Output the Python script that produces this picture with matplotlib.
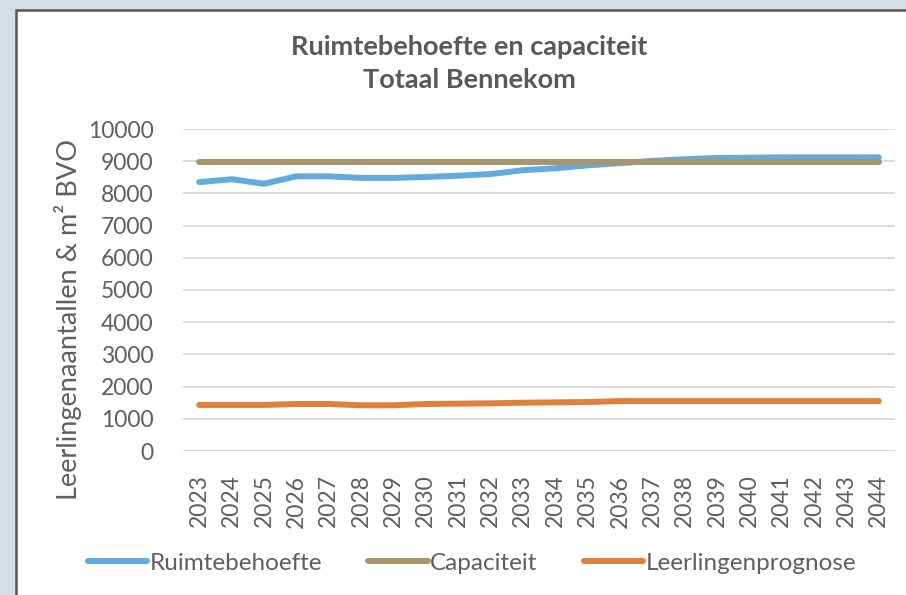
import matplotlib
matplotlib.use("Agg")
import matplotlib.pyplot as plt
from matplotlib.patches import Rectangle

years = [str(y) for y in range(2023, 2045)]
ruimtebehoefte = [8350, 8440, 8300, 8530, 8530, 8480, 8480, 8510, 8550, 8600, 8720, 8780,
                  8870, 8940, 9010, 9060, 9100, 9110, 9120, 9120, 9120, 9120]
capaciteit = [8970] * 22
leerlingenprognose = [1430, 1430, 1430, 1460, 1460, 1420, 1420, 1460, 1470, 1480, 1500, 1510,
                      1520, 1550, 1550, 1550, 1550, 1550, 1550, 1550, 1550, 1550]

txt = '#5f5f5f'
plt.rcParams['font.family'] = ['Lato', 'DejaVu Sans']

fig = plt.figure(figsize=(9.06, 5.95), dpi=100)
fig.patch.set_facecolor('#d5dee4')
# white chart panel with dark border (extends past right/bottom edge)
fig.patches.append(Rectangle((16 / 906, -0.1), 1.2, 1.1 - 10 / 595, transform=fig.transFigure,
                             facecolor='white', edgecolor='#4e5a5f', linewidth=1.8, zorder=-10))

ax = fig.add_axes([183 / 906, 1 - 451 / 595, (895 - 183) / 906, (451 - 129) / 595])
x = range(len(years))
ax.plot(x, ruimtebehoefte, color='#63aadf', lw=4.3, solid_capstyle='round', solid_joinstyle='round',
        label='Ruimtebehoefte', zorder=3)
ax.plot(x, capaciteit, color='#a9966f', lw=4.3, solid_capstyle='round', label='Capaciteit', zorder=4)
ax.plot(x, leerlingenprognose, color='#e0803c', lw=4.3, solid_capstyle='round',
        solid_joinstyle='round', label='Leerlingenprognose', zorder=3)

ax.set_xlim(-0.5, len(years) - 0.5)
ax.set_ylim(0, 10000)
ax.set_yticks(range(0, 10001, 1000))
ax.set_xticks(list(x))
ax.set_xticklabels(years, rotation=90)
ax.tick_params(axis='both', length=0, labelsize=16.5, labelcolor=txt)
ax.tick_params(axis='y', pad=21)
ax.tick_params(axis='x', pad=17)
ax.grid(True, axis='y', color='#d9d9d9', linewidth=1.3)
ax.set_axisbelow(True)
for s in ax.spines.values():
    s.set_visible(False)
ax.set_facecolor('none')

fig.text(68 / 906, 1 - 320 / 595, 'Leerlingenaantallen & m² BVO', rotation=90, ha='center',
         va='center', fontsize=19.5, color=txt)
fig.text(469 / 906, 1 - 47 / 595, 'Ruimtebehoefte en capaciteit', ha='center', va='center',
         fontsize=19.5, fontweight='bold', color='#595959')
fig.text(469 / 906, 1 - 80 / 595, 'Totaal Bennekom', ha='center', va='center',
         fontsize=19.5, fontweight='bold', color='#595959')

fig.legend(loc='center', bbox_to_anchor=(472 / 906, 1 - 563 / 595), ncol=3, frameon=False,
           fontsize=17.5, labelcolor=txt, handlelength=2.45, handletextpad=0.1,
           columnspacing=1.9)

fig.savefig('out.png', dpi=100, facecolor=fig.get_facecolor())
